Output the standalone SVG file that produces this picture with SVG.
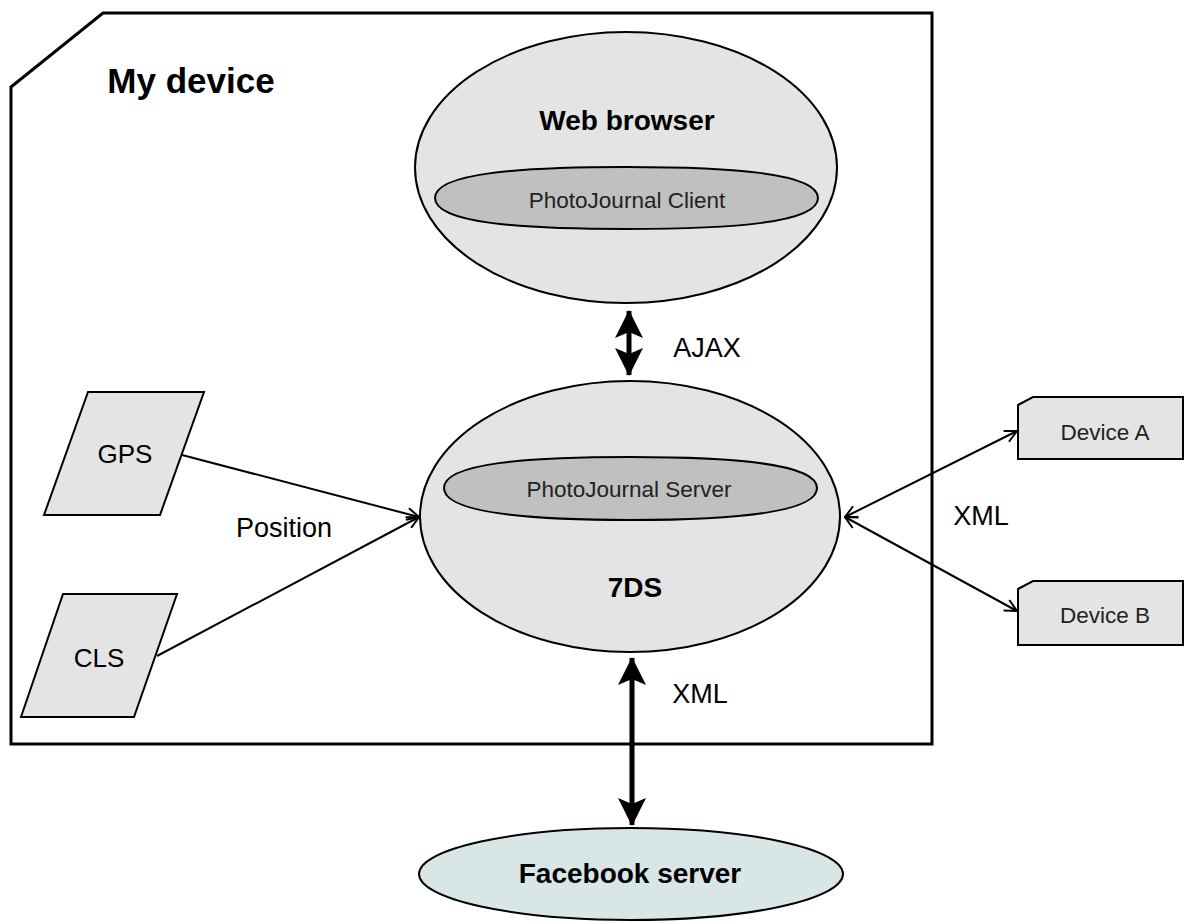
<svg xmlns="http://www.w3.org/2000/svg" width="1184" height="923" viewBox="0 0 1184 923">
  <style>
    .box { fill: #ffffff; stroke: #000; stroke-width: 3; }
    .node { fill: #e4e4e4; stroke: #000; stroke-width: 2; }
    .inner { fill: #c0c0c0; stroke: #000; stroke-width: 2; }
    .cloud { fill: #d8e6e6; stroke: #000; stroke-width: 2; }
    .t { font-family: "Liberation Sans", Arial, sans-serif; fill: #000; text-anchor: middle; }
    .b { font-weight: bold; font-size: 28px; }
    .n { font-size: 26px; }
    .s { font-size: 22.5px; fill: #222; }
    .lbl { font-size: 27px; }
    .thin { stroke: #000; stroke-width: 2; fill: none; }
    .thick { stroke: #000; stroke-width: 5; fill: none; }
  </style>
  <defs>
    <marker id="open" viewBox="0 0 14 14" refX="13" refY="7" markerWidth="14" markerHeight="14" markerUnits="userSpaceOnUse" orient="auto-start-reverse">
      <path d="M1,1 L13,7 L1,13" fill="none" stroke="#000" stroke-width="2"/>
    </marker>
    <marker id="solid" viewBox="0 0 28 30" refX="27" refY="15" markerWidth="28" markerHeight="30" markerUnits="userSpaceOnUse" orient="auto-start-reverse">
      <path d="M0,1 L28,15 L0,29 L6,15 Z" fill="#000"/>
    </marker>
  </defs>

  <!-- device boundary -->
  <g id="my-device">
    <path class="box" d="M11,87 L103,13 L932,13 L932,744 L11,744 Z"/>
    <text class="t" x="191" y="93" style="font-weight:bold;font-size:35px">My device</text>
  </g>

  <g id="web-browser">
    <ellipse class="node" cx="626" cy="167.5" rx="211" ry="135.5"/>
    <text class="t b" x="627" y="130">Web browser</text>
  </g>

  <g id="photojournal-client">
    <path class="inner" d="M435,198 C435,173 520,167 626,167 C732,167 818,173 818,198 C818,223 732,229 626,229 C520,229 435,223 435,198 Z"/>
    <text class="t s" x="627" y="208">PhotoJournal Client</text>
  </g>

  <g id="sevends">
    <ellipse class="node" cx="630" cy="516.5" rx="210" ry="135.5"/>
    <text class="t b" x="635" y="597">7DS</text>
  </g>

  <g id="photojournal-server">
    <path class="inner" d="M444,488 C444,463 528,457 630,457 C732,457 817,463 817,488 C817,513 732,520 630,520 C528,520 444,513 444,488 Z"/>
    <text class="t s" x="629" y="497">PhotoJournal Server</text>
  </g>

  <g id="gps">
    <polygon class="node" points="88,392 204,392 160,515 44,515"/>
    <text class="t n" x="125" y="463">GPS</text>
  </g>

  <g id="cls">
    <polygon class="node" points="63,594 177,594 134,717 21,717"/>
    <text class="t n" x="99" y="667">CLS</text>
  </g>

  <g id="device-a">
    <path class="node" d="M1018,405 L1033,397 L1183,397 L1183,459 L1018,459 Z"/>
    <text class="t s" x="1105" y="440">Device A</text>
  </g>

  <g id="device-b">
    <path class="node" d="M1018,589 L1033,581 L1183,581 L1183,645 L1018,645 Z"/>
    <text class="t s" x="1105" y="623">Device B</text>
  </g>

  <g id="facebook-server">
    <ellipse class="cloud" cx="631" cy="874" rx="212" ry="46"/>
    <text class="t b" x="630" y="883">Facebook server</text>
  </g>

  <!-- connectors -->
  <g id="connectors">
    <line class="thick" x1="629" y1="311" x2="629" y2="375" marker-start="url(#solid)" marker-end="url(#solid)"/>
    <line class="thick" x1="632" y1="658" x2="632" y2="825" marker-start="url(#solid)" marker-end="url(#solid)"/>
    <line class="thin" x1="182" y1="455" x2="419" y2="517" marker-end="url(#open)"/>
    <line class="thin" x1="157" y1="656" x2="419" y2="517" marker-end="url(#open)"/>
    <line class="thin" x1="845" y1="517" x2="1017" y2="431" marker-start="url(#open)" marker-end="url(#open)"/>
    <line class="thin" x1="845" y1="517" x2="1017" y2="611" marker-start="url(#open)" marker-end="url(#open)"/>
    <text class="t lbl" x="707" y="357">AJAX</text>
    <text class="t lbl" x="284" y="537">Position</text>
    <text class="t lbl" x="981" y="525">XML</text>
    <text class="t lbl" x="700" y="703">XML</text>
  </g>
</svg>
